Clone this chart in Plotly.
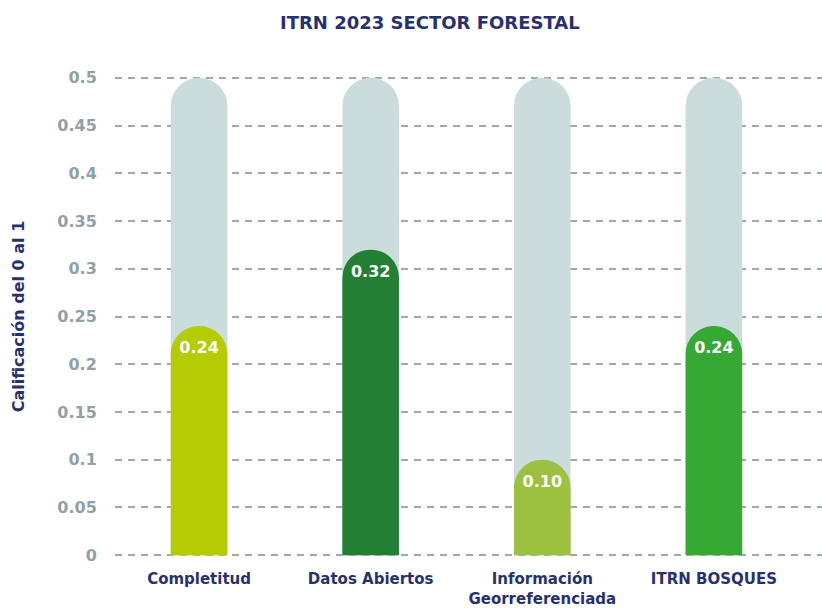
import plotly.graph_objects as go

categories = ["Completitud", "Datos Abiertos", "Información<br>Georreferenciada", "ITRN BOSQUES"]
values = [0.24, 0.32, 0.10, 0.24]
max_values = [0.5, 0.5, 0.5, 0.5]
bar_colors = ["#b5cc05", "#237f32", "#9cc140", "#36a834"]
tick_vals = [0, 0.05, 0.1, 0.15, 0.2, 0.25, 0.3, 0.35, 0.4, 0.45, 0.5]
tick_text = ["0", "0.05", "0.1", "0.15", "0.2", "0.25", "0.3", "0.35", "0.4", "0.45", "0.5"]

navy = "#27316f"
font_main = "DejaVu Sans"
bw = 0.33
xrange = [-0.49, 3.63]

fig = go.Figure()
fig.add_trace(go.Bar(
    x=categories, y=max_values, xaxis="x",
    marker=dict(color="#cbdcdc", cornerradius="50%", line=dict(width=0)),
    width=bw, hoverinfo="skip", showlegend=False,
))
fig.add_trace(go.Bar(
    x=categories, y=values, xaxis="x2",
    marker=dict(color=bar_colors, cornerradius="50%", line=dict(width=0)),
    width=bw, showlegend=False,
    texttemplate="%{y:.2f}", textposition="inside", insidetextanchor="end",
    textfont=dict(color="white", size=16, family=font_main, weight="bold"),
    textangle=0,
))

fig.update_layout(
    width=822, height=608,
    barmode="overlay",
    plot_bgcolor="white", paper_bgcolor="white",
    margin=dict(l=115, r=0, t=73, b=48),
    title=dict(text="ITRN 2023 SECTOR FORESTAL", x=0.523, xanchor="center", y=0.963, yanchor="middle",
               font=dict(family=font_main, size=18, color=navy, weight="bold")),
    font=dict(family=font_main),
    xaxis=dict(
        type="category", range=xrange, automargin=False,
        showgrid=False, zeroline=False, showline=False,
        tickfont=dict(family=font_main, size=15, color=navy, weight="bold"),
        ticks="outside", ticklen=5, tickcolor="rgba(0,0,0,0)",
    ),
    xaxis2=dict(
        type="category", range=xrange, overlaying="x", matches="x",
        visible=False, showgrid=False, zeroline=False,
    ),
    yaxis=dict(
        range=[-0.005, 0.505], automargin=False,
        tickvals=tick_vals, ticktext=tick_text,
        showgrid=True, gridcolor="#9ea9a9", gridwidth=2, griddash="7px,6px",
        zeroline=False, showline=False,
        tickfont=dict(family=font_main, size=16, color="#8fa1a6", weight="bold"),
        ticks="outside", ticklen=14, tickcolor="rgba(0,0,0,0)",
        title=dict(text="Calificación del 0 al 1", standoff=28,
                   font=dict(family=font_main, size=16, color=navy, weight="bold")),
    ),
)

fig.write_html("out.html")
